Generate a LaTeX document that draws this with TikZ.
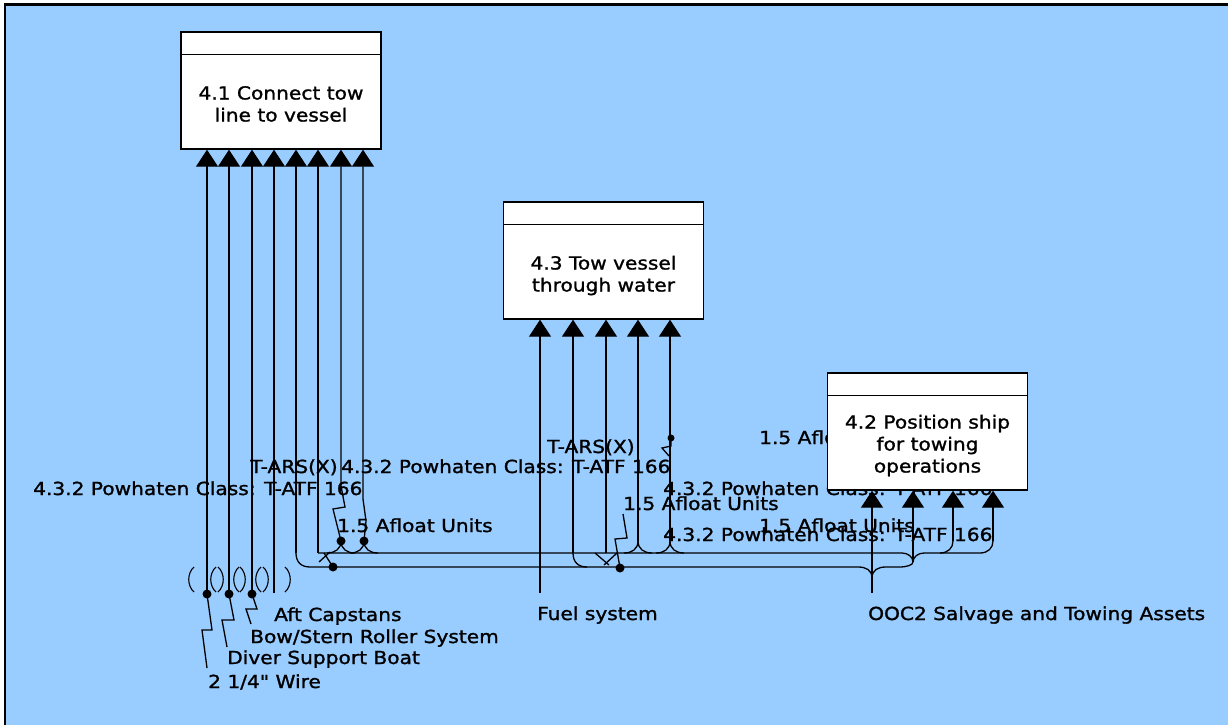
\documentclass[tikz,border=0pt]{standalone}
\usepackage{fontspec}
\newfontfamily\dvs{DejaVu Sans}[FakeStretch=1.12,FakeBold=1.3]
\usetikzlibrary{arrows.meta}
\definecolor{bgblue}{RGB}{153,204,255}
\begin{document}
\begin{tikzpicture}[x=1pt,y=-1pt,
  ln/.style={line width=1.3pt},
  arr/.style={ln,-{Triangle[length=17pt,width=22pt]}},
  box/.style={draw,line width=1.4pt,fill=white,minimum width=200pt,minimum height=117pt,inner sep=0pt},
  lbl/.style={anchor=base west,inner sep=0pt,font=\dvs\fontsize{18}{22}\selectfont},
  btxt/.style={anchor=base,inner sep=0pt,font=\dvs\fontsize{18}{22}\selectfont},
  dot/.style={circle,fill,inner sep=0pt,minimum size=9pt},
  paren/.style={line width=1.1pt}]
\path[use as bounding box] (0,0) rectangle (1228,725);
\fill[white] (0,0) rectangle (1228,725);
\fill[bgblue] (5,4.5) rectangle (1228,725);
\draw[line width=2.5pt] (5.2,725) -- (5.2,4.5) -- (1228,4.5);

% labels
\node[lbl] (t1) at (250,473) {T-ARS(X)};
\node[lbl] (t2) at (341,473) {4.3.2 Powhaten Class: T-ATF 166};
\node[lbl] (t3) at (33,495) {4.3.2 Powhaten Class: T-ATF 166};
\node[lbl] (t4) at (337,532) {1.5 Afloat Units};
\node[lbl] (t5) at (547,453) {T-ARS(X)};
\node[lbl] (t6) at (759,444) {1.5 Afloat Units};
\node[lbl] (t7) at (663,495) {4.3.2 Powhaten Class: T-ATF 166};
\node[lbl] (t8) at (623,510) {1.5 Afloat Units};
\node[lbl] (t9) at (759,532) {1.5 Afloat Units};
\node[lbl] (t10) at (663,541) {4.3.2 Powhaten Class: T-ATF 166};
\node[lbl] (s1) at (274,621) {Aft Capstans};
\node[lbl] (s2) at (250,643) {Bow/Stern Roller System};
\node[lbl] (s3) at (227,664) {Diver Support Boat};
\node[lbl] (s4) at (208,688) {2 1/4" Wire};
\node[lbl] (s5) at (537,620) {Fuel system};
\node[lbl] (s6) at (868,620) {OOC2 Salvage and Towing Assets};

% boxes (positions used by connectors)
\node[box] (b41) at (281,90.5) {};
\node[box] (b43) at (603.5,260.5) {};
\node[box] (b42) at (927.5,431.5) {};

% ---- inputs of 4.1
\node[dot] (d1) at (207,594) {};
\node[dot] (d2) at (229,594) {};
\node[dot] (d3) at (252,594) {};
\coordinate (e4) at (274,593);
\draw[arr] (d1.center) -- (d1.center |- b41.south);
\draw[arr] (d2.center) -- (d2.center |- b41.south);
\draw[arr] (d3.center) -- (d3.center |- b41.south);
\draw[arr] (e4) -- (e4 |- b41.south);
\draw[ln] (d1.center) -- (212,630) -- (202,630) -- (207,668);
\draw[ln] (d2.center) -- (234,620) -- (222,620) -- (227,647);
\draw[ln] (d3.center) -- (257,609) -- (246,609) -- (251,624);
\foreach \x in {207,229,252,274}{
  \draw[paren] ({\x-13},567) .. controls ({\x-20},573) and ({\x-20},586) .. ({\x-13},592);
  \draw[paren] ({\x+11},567) .. controls ({\x+18},573) and ({\x+18},586) .. ({\x+11},592);
}

% lower bus
\coordinate (lb0) at (296,553);
\draw[arr] (lb0) -- (lb0 |- b41.south);
\draw[ln] (lb0) .. controls (296,562) and (301,567) .. (310,567) -- (858,567)
  .. controls (866,567) and (872,570) .. (872,578);
% upper bus
\coordinate (ub0) at (318,553);
\draw[arr] (ub0) -- (ub0 |- b41.south);
\draw[ln] (ub0) -- (902,553) .. controls (908,553) and (913,557) .. (913,562);
\draw[ln] (913,562) .. controls (913,557) and (918,553) .. (924,553) -- (980,553)
  .. controls (988,553) and (993,548) .. (993,541);
\draw[ln] (872,578) .. controls (872,570) and (878,567) .. (886,567) -- (899,567)
  .. controls (907,567) and (913,565) .. (913,562);

% 4.1 lines with dots
\node[dot] (d7) at (341,541) {};
\node[dot] (d8) at (364,541) {};
\draw[arr] (d7.center) -- (333,509) -- (345,507) -- (341,486) -- (341,486 |- b41.south);
\draw[arr] (d8.center) -- (366,521) -- (363,499) -- (363,499 |- b41.south);
\foreach \n in {d7,d8}{
  \draw[ln] (\n.center) .. controls ++(0,8) and ++(8,0) .. ++(-14,12);
  \draw[ln] (\n.center) .. controls ++(0,8) and ++(-8,0) .. ++(14,12);
}
\draw[ln] (319,562) -- (330,552);
\draw[ln] (324,553) -- (333,567);
\node[dot] (dx1) at (333,567) {};

% ---- inputs of 4.3
\coordinate (m1) at (540,593);
\coordinate (m2) at (573,553);
\coordinate (m3) at (606,553);
\coordinate (m4) at (638,541);
\coordinate (m5) at (670,541);
\foreach \m in {m1,m2,m3,m4,m5}{\draw[arr] (\m) -- (\m |- b43.south);}
\draw[ln] (m2) .. controls (573,562) and (578,567) .. (587,567);
\draw[ln] (595,553) -- (609,565);
\draw[ln] (617,553) -- (604,565);
\draw[ln] (623,514) -- (627,538) -- (615,539) -- (620,568);
\node[dot] (dx2) at (620,568) {};
\foreach \m in {m4,m5}{
  \draw[ln] (\m) .. controls ++(0,8) and ++(8,0) .. ++(-14,12);
  \draw[ln] (\m) .. controls ++(0,8) and ++(-8,0) .. ++(14,12);
}
\node[dot,minimum size=7pt] (d5) at (671,438) {};
\draw[ln] (d5.center) -- (671,446) -- (662,448) -- (669,456);

% ---- inputs of 4.2
\coordinate (n1) at (872,593);
\coordinate (n2) at (913,562);
\coordinate (n3) at (953,541);
\coordinate (n4) at (993,541);
\foreach \m in {n1,n2,n3,n4}{\draw[arr] (\m) -- (\m |- b42.south);}
\draw[ln] (n3) .. controls (953,548) and (948,553) .. (940,553);

% boxes on top
\node[box] at (b41) {};
\node[box] at (b43) {};
\node[box] at (b42) {};
\foreach \b in {b41,b43,b42}{
  \draw[line width=1.1pt] ([yshift=-23pt]\b.north west) -- ([yshift=-23pt]\b.north east);
}
\node[btxt] (b41a) at (281,99.5) {4.1 Connect tow};
\node[btxt] (b41b) at (281,121.5) {line to vessel};
\node[btxt] (b43a) at (603.5,269.5) {4.3 Tow vessel};
\node[btxt] (b43b) at (603.5,291.5) {through water};
\node[btxt] (b42a) at (927.5,428.5) {4.2 Position ship};
\node[btxt] (b42b) at (927.5,450.5) {for towing};
\node[btxt] (b42c) at (927.5,472.5) {operations};
\end{tikzpicture}
\end{document}
